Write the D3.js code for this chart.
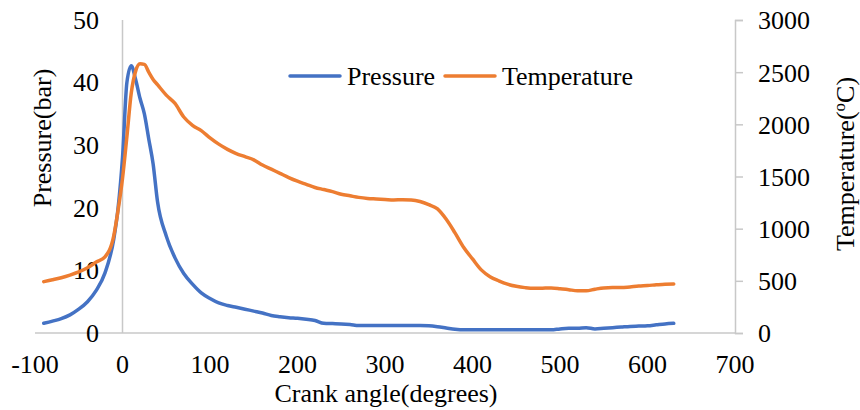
<!DOCTYPE html>
<html>
<head>
<meta charset="utf-8">
<script src="https://cdn.jsdelivr.net/npm/d3@7"></script>
<style>
  html, body { margin: 0; padding: 0; background: #fff; }
  svg { display: block; font-family: "Liberation Serif", "Times New Roman", serif; }
</style>
</head>
<body>
<svg id="chart" width="860" height="410"></svg>
<script>
// Crank angle (degrees)
const crankAngle = [-90,-80,-70,-60,-50,-40,-30,-20,-10,-5,0,5,10,15,20,25,30,35,40,50,60,70,80,90,
  100,110,120,130,140,150,160,170,180,190,200,210,220,230,240,250,260,270,280,290,300,310,320,330,340,
  350,360,370,380,390,400,410,420,430,440,450,460,470,480,490,500,510,520,530,540,550,560,570,580,590,
  600,610,620,630];

// In-cylinder pressure (bar)
const pressure = [1.55,1.9,2.3,2.9,3.8,5.0,6.8,9.6,15.0,20.0,28.0,40.0,42.7,40.5,37.5,35.0,31.0,27.0,21.0,15.5,12.0,9.5,7.8,6.4,
  5.5,4.8,4.4,4.1,3.8,3.5,3.2,2.8,2.6,2.45,2.35,2.2,2.0,1.55,1.5,1.45,1.35,1.2,1.2,1.2,1.2,1.2,1.2,1.2,1.2,
  1.15,1.0,0.8,0.6,0.5,0.5,0.5,0.5,0.5,0.5,0.5,0.5,0.5,0.5,0.5,0.65,0.75,0.75,0.85,0.65,0.75,0.85,0.95,1.05,1.1,
  1.15,1.3,1.45,1.55];

// In-cylinder temperature (degC)
const temperature = [492,510,530,555,585,625,680,730,930,1180,1480,1880,2300,2510,2580,2575,2500,2430,2380,2280,2200,2070,1990,1940,
  1870,1810,1760,1720,1690,1660,1610,1570,1530,1490,1455,1425,1395,1375,1355,1330,1315,1300,1290,1285,1280,1275,1278,1275,1260,
  1230,1190,1090,960,820,710,605,540,500,468,448,435,428,430,432,425,415,405,405,420,432,435,435,442,450,
  455,462,468,470];

const xTicks = [-100,0,100,200,300,400,500,600,700];
const pTicks = [0,10,20,30,40,50];
const tTicks = [0,500,1000,1500,2000,2500,3000];

const svg = d3.select("#chart");
const plotLeft = 35, plotRight = 735, plotTop = 20, plotBottom = 333;
const axisColor = "#c8c8c8";
const fontSize = 26;

const x = d3.scaleLinear().domain([-100, 700]).range([plotLeft, plotRight]);
const yP = d3.scaleLinear().domain([0, 50]).range([plotBottom, plotTop]);
const yT = d3.scaleLinear().domain([0, 3000]).range([plotBottom, plotTop]);

// Horizontal axis line with tick labels
svg.append("line")
  .attr("x1", plotLeft).attr("x2", plotRight).attr("y1", plotBottom).attr("y2", plotBottom)
  .attr("stroke", axisColor).attr("stroke-width", 1.5);
svg.append("g").selectAll("text").data(xTicks).join("text")
  .attr("x", d => x(d)).attr("y", 373)
  .attr("text-anchor", "middle").attr("font-size", fontSize).attr("fill", "#000")
  .text(d => d);

// Primary vertical axis crossing at angle 0
svg.append("line")
  .attr("x1", x(0)).attr("x2", x(0)).attr("y1", plotTop).attr("y2", plotBottom)
  .attr("stroke", axisColor).attr("stroke-width", 1.5);
svg.append("g").selectAll("text").data(pTicks).join("text")
  .attr("x", 99).attr("y", d => yP(d)).attr("dy", "0.34em")
  .attr("text-anchor", "end").attr("font-size", fontSize).attr("fill", "#000")
  .text(d => d);

// Secondary vertical axis (temperature) on the right
const rightAxis = d3.axisRight(yT).tickValues(tTicks).tickSize(8).tickFormat(d => d);
const gR = svg.append("g").attr("transform", `translate(${plotRight},0)`).call(rightAxis);
gR.select(".domain").attr("stroke", axisColor).attr("stroke-width", 1.5);
gR.selectAll(".tick line").attr("stroke", axisColor).attr("stroke-width", 1.5);
gR.selectAll(".tick text")
  .attr("x", 23).attr("dy", "0.34em")
  .attr("font-size", fontSize).attr("font-family", "Liberation Serif, Times New Roman, serif")
  .attr("fill", "#000");

// Axis titles
svg.append("text")
  .attr("transform", `translate(${x(300) + 1},402)`)
  .attr("text-anchor", "middle").attr("font-size", fontSize).text("Crank angle(degrees)");
svg.append("text")
  .attr("transform", "translate(51,138) rotate(-90)")
  .attr("text-anchor", "middle").attr("font-size", fontSize).text("Pressure(bar)");
const tTitle = svg.append("text")
  .attr("transform", "translate(854,164) rotate(-90)")
  .attr("text-anchor", "middle").attr("font-size", fontSize);
tTitle.append("tspan").text("Temperature(");
tTitle.append("tspan").attr("font-size", 17).attr("dy", "-0.55em").text("o");
tTitle.append("tspan").attr("dy", "0.35em").text("C)");

// Series lines
const lineP = d3.line()
  .x((d, i) => x(crankAngle[i])).y(d => yP(d))
  .curve(d3.curveMonotoneX);
const lineT = d3.line()
  .x((d, i) => x(crankAngle[i])).y(d => yT(d))
  .curve(d3.curveMonotoneX);

svg.append("path").datum(pressure)
  .attr("d", lineP).attr("fill", "none")
  .attr("stroke", "#4472C4").attr("stroke-width", 3.5)
  .attr("stroke-linejoin", "round").attr("stroke-linecap", "round");
svg.append("path").datum(temperature)
  .attr("d", lineT).attr("fill", "none")
  .attr("stroke", "#ED7D31").attr("stroke-width", 3.5)
  .attr("stroke-linejoin", "round").attr("stroke-linecap", "round");

// Legend
const legendItems = [
  { name: "Pressure", color: "#4472C4", x0: 290 },
  { name: "Temperature", color: "#ED7D31", x0: 445 }
];
const lg = svg.append("g");
legendItems.forEach(item => {
  lg.append("line")
    .attr("x1", item.x0).attr("x2", item.x0 + 50).attr("y1", 76).attr("y2", 76)
    .attr("stroke", item.color).attr("stroke-width", 3.5).attr("stroke-linecap", "round");
  lg.append("text")
    .attr("x", item.x0 + 57).attr("y", 85)
    .attr("font-size", fontSize).attr("fill", "#000").text(item.name);
});
</script>
</body>
</html>
